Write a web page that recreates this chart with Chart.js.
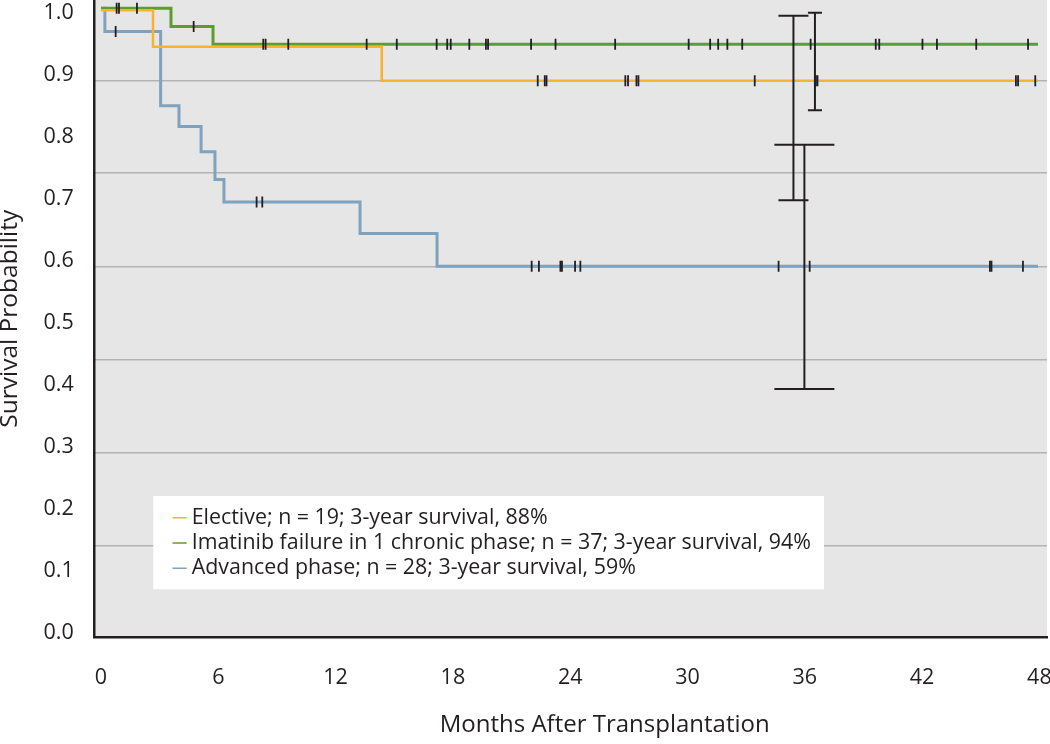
<!DOCTYPE html>
<html>
<head>
<meta charset="utf-8">
<script src="https://cdn.jsdelivr.net/npm/chart.js@4.4.1/dist/chart.umd.min.js"></script>
<style>
  html, body { margin: 0; padding: 0; background: #ffffff; }
  canvas { display: block; }
</style>
</head>
<body>
<canvas id="km" width="1050" height="744"></canvas>
<script>
// ---------------- data ----------------
const monthTicks = [0, 6, 12, 18, 24, 30, 36, 42, 48];
const probTicks = [0.0, 0.1, 0.2, 0.3, 0.4, 0.5, 0.6, 0.7, 0.8, 0.9, 1.0];
const gridProbs = [0.146, 0.294, 0.441, 0.589, 0.738, 0.885];

const seriesNames = [
  'Elective; n = 19; 3-year survival, 88%',
  'Imatinib failure in 1 chronic phase; n = 37; 3-year survival, 94%',
  'Advanced phase; n = 28; 3-year survival, 59%'
];

// Kaplan-Meier steps: month at which the curve reaches each level
const electiveMonths = [0, 2.66, 14.36, 47.93];
const electiveSurv   = [0.997, 0.939, 0.885, 0.885];

const imatinibMonths = [0, 3.58, 5.73, 47.93];
const imatinibSurv   = [1.0, 0.971, 0.943, 0.943];

const advancedMonths = [0, 0.20, 3.05, 3.99, 5.12, 5.83, 6.29, 13.25, 17.19, 47.93];
const advancedSurv   = [1.0, 0.963, 0.845, 0.812, 0.772, 0.728, 0.692, 0.642, 0.590, 0.590];

// censoring marks
const electiveCensorMonths = [22.34, 22.70, 22.79, 26.82, 26.96, 27.39, 27.49, 33.44, 36.57, 36.65, 46.80, 46.91, 47.79];
const electiveCensorSurv   = [0.885, 0.885, 0.885, 0.885, 0.885, 0.885, 0.885, 0.885, 0.885, 0.885, 0.885, 0.885, 0.885];

const imatinibCensorMonths = [0.80, 0.92, 1.84, 4.74, 8.30, 8.42, 9.58, 13.59, 15.13, 17.17, 17.71, 17.89, 18.84, 19.69, 19.80,
                              22.00, 23.25, 26.30, 30.06, 31.16, 31.57, 32.04, 32.80, 36.30, 39.63, 39.81, 42.02, 42.76, 44.77, 47.42];
const imatinibCensorSurv   = [1.0, 1.0, 1.0, 0.971, 0.943, 0.943, 0.943, 0.943, 0.943, 0.943, 0.943, 0.943, 0.943, 0.943, 0.943,
                              0.943, 0.943, 0.943, 0.943, 0.943, 0.943, 0.943, 0.943, 0.943, 0.943, 0.943, 0.943, 0.943, 0.943, 0.943];

const advancedCensorMonths = [0.75, 7.96, 8.25, 22.03, 22.40, 23.50, 23.58, 24.25, 24.52, 34.66, 36.25, 45.47, 45.55, 47.16];
const advancedCensorSurv   = [0.963, 0.692, 0.692, 0.590, 0.590, 0.590, 0.590, 0.590, 0.590, 0.590, 0.590, 0.590, 0.590, 0.590];

// 3-year confidence intervals
const ciMonths = [35.42, 36.52, 35.98];
const ciLower  = [0.695, 0.838, 0.395];
const ciUpper  = [0.988, 0.993, 0.783];

// ---------------- styles ----------------
const INK = '#231f20';
const FONT = "'Open Sans', 'Noto Sans', sans-serif";
const seriesColors = ['#f8b22c', '#5f9c2e', '#7fa2bf'];
const seriesWidths = [2.5, 3, 3];
const ciCapHalfPx = [15, 7, 30];

function pts(xs, ys) { return xs.map((x, i) => ({ x: x, y: ys[i] })); }

const curveSets = [
  pts(electiveMonths, electiveSurv),
  pts(imatinibMonths, imatinibSurv),
  pts(advancedMonths, advancedSurv)
].map((data, i) => ({
  type: 'line', label: seriesNames[i], data: data, stepped: 'before',
  borderColor: seriesColors[i], backgroundColor: seriesColors[i], borderWidth: seriesWidths[i],
  pointRadius: 0, fill: false, order: 3, yAxisID: 'y', xAxisID: 'x'
}));

function censorSet(xs, ys) {
  return {
    type: 'line', label: '', data: pts(xs, ys), showLine: false,
    pointStyle: 'line', pointRotation: 90, pointRadius: 5.5, pointHoverRadius: 5.5,
    pointBorderWidth: 1.8, pointBorderColor: INK, pointBackgroundColor: INK,
    order: 1, yAxisID: 'y', xAxisID: 'x'
  };
}

const ciLineData = [];
const ciCapData = [];
const ciCapRadius = [];
ciMonths.forEach((m, i) => {
  ciLineData.push({ x: m, y: ciUpper[i] }, { x: m, y: ciLower[i] }, { x: m, y: null });
  ciCapData.push({ x: m, y: ciUpper[i] }, { x: m, y: ciLower[i] });
  ciCapRadius.push(ciCapHalfPx[i], ciCapHalfPx[i]);
});

const datasets = curveSets.concat([
  censorSet(electiveCensorMonths, electiveCensorSurv),
  censorSet(imatinibCensorMonths, imatinibCensorSurv),
  censorSet(advancedCensorMonths, advancedCensorSurv),
  { type: 'line', label: '', data: ciLineData, spanGaps: false, borderColor: INK, borderWidth: 2,
    pointRadius: 0, fill: false, order: 2, yAxisID: 'y', xAxisID: 'x' },
  { type: 'line', label: '', data: ciCapData, showLine: false, pointStyle: 'line', pointRotation: 0,
    pointRadius: ciCapRadius, pointHoverRadius: ciCapRadius, pointBorderWidth: 2, pointBorderColor: INK,
    order: 2, yAxisID: 'y', xAxisID: 'x' }
]);

function zeroPad(s) { s.paddingLeft = 0; s.paddingRight = 0; s.paddingTop = 0; s.paddingBottom = 0; }

const LEGEND_FONT = 21.4;
const LEGEND_PAD = 3.9;

const kmPlugin = {
  id: 'kmDecor',
  beforeDraw(chart) {
    const a = chart.chartArea, c = chart.ctx;
    c.save();
    c.fillStyle = '#e6e6e6';
    c.fillRect(a.left, a.top, a.right - a.left, a.bottom - a.top);
    c.restore();
  },
  afterUpdate(chart) {
    const lg = chart.legend;
    if (!lg) return;
    lg.left = 172.5; lg.top = 503.1;
    lg.right = chart.chartArea.right; lg.bottom = chart.chartArea.bottom;
    lg.width = lg.right - lg.left; lg.height = lg.bottom - lg.top;
    if (!lg._kmWrapped) {
      const orig = lg.draw;
      lg.draw = function (area) {
        const c = chart.ctx;
        c.save();
        c.fillStyle = '#ffffff';
        c.fillRect(153.3, 496, 824 - 153.3, 589.3 - 496);
        c.restore();
        orig.call(this, area);
      };
      lg._kmWrapped = true;
    }
  }
};

Chart.defaults.font.family = FONT;

new Chart(document.getElementById('km'), {
  type: 'line',
  data: { datasets: datasets },
  plugins: [kmPlugin],
  options: {
    responsive: false,
    animation: false,
    devicePixelRatio: 1,
    events: [],
    layout: { autoPadding: false, padding: { top: 0, right: 3, bottom: 0, left: 0 } },
    plugins: {
      tooltip: { enabled: false },
      legend: {
        display: true,
        position: 'chartArea',
        align: 'start',
        labels: {
          filter: (item) => item.datasetIndex < 3,
          usePointStyle: true,
          pointStyle: 'line',
          boxWidth: 4.6,
          boxHeight: 11.31,
          padding: LEGEND_PAD,
          color: INK,
          font: { family: FONT, size: LEGEND_FONT },
          generateLabels: (chart) => {
            const items = Chart.defaults.plugins.legend.labels.generateLabels(chart);
            items.forEach(it => { it.lineWidth = 1.5; it.pointStyle = 'line'; });
            return items;
          }
        }
      }
    },
    scales: {
      x: {
        type: 'linear', position: 'bottom', bounds: 'data',
        min: -0.368, max: 48.39,
        afterBuildTicks: (s) => { s.ticks = monthTicks.map(v => ({ value: v })); },
        afterFit: (s) => { s.height = 106.5; zeroPad(s); },
        grid: { display: false, drawTicks: false },
        border: { display: true, color: INK, width: 2.5 },
        ticks: { color: INK, font: { family: FONT, size: 21.5 }, padding: 27.3, maxRotation: 0, autoSkip: false,
                 callback: (v) => String(v) },
        title: { display: true, text: '           Months After Transplantation', color: INK,
                 font: { family: FONT, size: 24 }, padding: { top: 0, bottom: 4 } }
      },
      yl: {
        type: 'linear', position: 'left', bounds: 'data',
        min: -0.00775, max: 1.02147,
        afterBuildTicks: (s) => { s.ticks = probTicks.map(v => ({ value: v })); },
        afterFit: (s) => { s.width = 93.8; zeroPad(s); },
        grid: { display: false, drawTicks: false },
        border: { display: true, color: INK, width: 2.5 },
        ticks: { color: INK, font: { family: FONT, size: 21.5 }, padding: 20, autoSkip: false,
                 callback: (v) => Number(v).toFixed(1) },
        title: { display: true, text: 'Survival Probability', color: INK,
                 font: { family: FONT, size: 24.5, lineHeight: 0.85 }, padding: { top: 0, bottom: 0 } }
      },
      y: {
        type: 'linear', position: 'left', bounds: 'data',
        min: 0, max: 1.0132,
        afterBuildTicks: (s) => { s.ticks = gridProbs.map(v => ({ value: v })); },
        afterFit: (s) => { s.width = 0; zeroPad(s); },
        grid: { display: true, color: '#b3b3b3', lineWidth: 1.5, drawTicks: false },
        border: { display: false },
        ticks: { display: false }
      }
    }
  }
});
</script>
</body>
</html>
